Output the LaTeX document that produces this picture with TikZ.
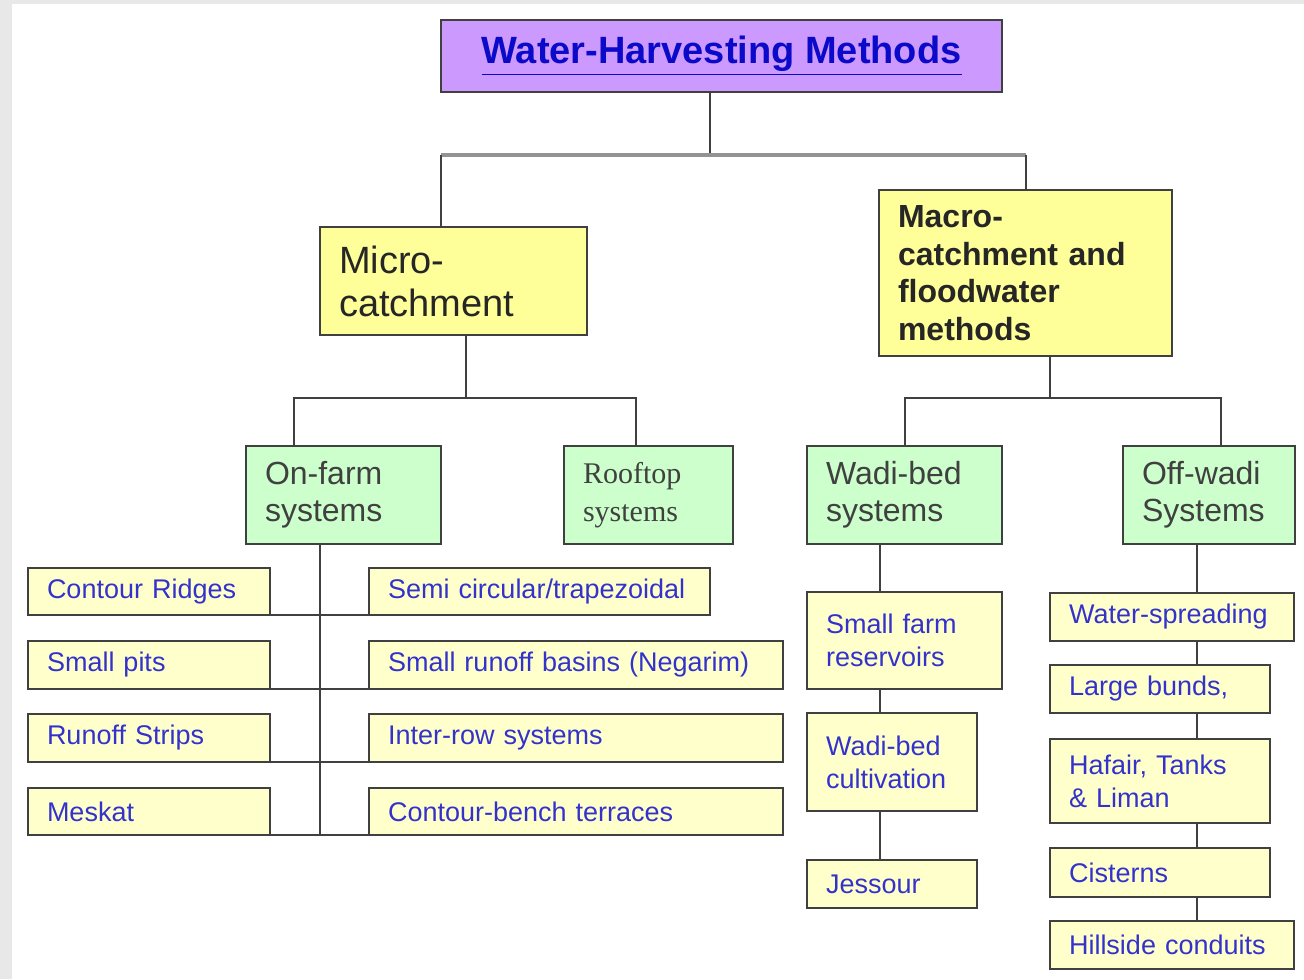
\documentclass[tikz,border=0pt]{standalone}
\usepackage{fontspec}
\setmainfont{Liberation Sans}
\newfontfamily\roofserif{Liberation Serif}
\usepackage{xcolor}
\usepackage{tikz}
\definecolor{bandgray}{RGB}{232,232,232}
\definecolor{boxline}{RGB}{64,64,64}
\definecolor{headpurple}{RGB}{204,153,255}
\definecolor{headblue}{RGB}{10,10,200}
\definecolor{catchyellow}{RGB}{255,255,153}
\definecolor{sysgreen}{RGB}{204,255,204}
\definecolor{methodyellow}{RGB}{255,255,204}
\definecolor{methodblue}{RGB}{51,51,204}
\tikzstyle{box} = [rectangle, draw=boxline, line width=1.2pt, outer sep=0pt, inner xsep=9.5pt, inner ysep=2pt, align=left, anchor=north west]
\tikzstyle{heading} = [box, fill=headpurple, text=headblue, minimum width=280.5pt, minimum height=36pt, align=center, font=\bfseries\fontsize{19}{22}\selectfont]
\tikzstyle{catch} = [box, fill=catchyellow, text=black!85, font=\fontsize{19}{21.5}\selectfont]
\tikzstyle{system} = [box, fill=sysgreen, text=black!75, minimum height=49pt, font=\fontsize{16}{18.5}\selectfont]
\tikzstyle{method} = [box, fill=methodyellow, text=methodblue, font=\fontsize{13.5}{16.5}\selectfont]
\tikzstyle{link} = [draw=boxline, line width=1pt]
\tikzstyle{bus} = [draw=gray!85, line width=2pt]

\begin{document}
\begin{tikzpicture}[x=0.5pt, y=-0.5pt]

		% Page and grey band
		\useasboundingbox (0,0) rectangle (1304,979);
		\fill [bandgray] (0,0) rectangle (1304,979);
		\fill [white] (12,4) rectangle (1304,979);

		% Top levels
		\node (title) [heading] at (441,20) {\underline{Water-Harvesting Methods}};
		\node (micro) [catch, text width=114.5pt, minimum height=54pt] at (320,227) {Micro-\\catchment};
		\node (macro) [catch, text width=127.5pt, minimum height=83pt, font=\bfseries\fontsize{16}{18.75}\selectfont] at (879,190) {Macro-\\catchment and\\floodwater\\methods};

		% Systems
		\node (onfarm) [system, text width=78.5pt] at (246,446) {On-farm\\systems};
		\node (rooftop) [system, text width=65.5pt, font=\roofserif\fontsize{15}{19}\selectfont] at (564,446) {Rooftop\\systems};
		\node (wadibed) [system, text width=78.5pt] at (807,446) {Wadi-bed\\systems};
		\node (offwadi) [system, text width=67pt] at (1123,446) {Off-wadi\\Systems};

		% On-farm methods
		\node (ridges) [method, text width=102pt, minimum height=23.5pt] at (28,568) {Contour Ridges};
		\node (pits) [method, text width=102pt, minimum height=24pt] at (28,641) {Small pits};
		\node (strips) [method, text width=102pt, minimum height=24pt] at (28,714) {Runoff Strips};
		\node (meskat) [method, text width=102pt, minimum height=23.5pt] at (28,788) {Meskat};
		\node (semi) [method, text width=151.5pt, minimum height=23.5pt] at (369,568) {Semi circular/trapezoidal};
		\node (negarim) [method, text width=188pt, minimum height=24pt] at (369,641) {Small runoff basins (Negarim)};
		\node (interrow) [method, text width=188pt, minimum height=24pt] at (369,714) {Inter-row systems};
		\node (bench) [method, text width=188pt, minimum height=23.5pt] at (369,788) {Contour-bench terraces};

		% Wadi-bed methods
		\node (smallfarm) [method, text width=78.5pt, minimum height=48.5pt] at (807,592) {Small farm\\reservoirs};
		\node (wadicult) [method, text width=66pt, minimum height=49pt] at (807,713) {Wadi-bed\\cultivation};
		\node (jessour) [method, text width=66pt, minimum height=24pt] at (807,860) {Jessour};

		% Off-wadi methods
		\node (spreading) [method, text width=103pt, minimum height=24pt] at (1050,593) {Water-spreading};
		\node (bunds) [method, text width=91pt, minimum height=24pt] at (1050,665) {Large bunds,};
		\node (hafair) [method, text width=91pt, minimum height=42pt] at (1050,739) {Hafair, Tanks\\\& Liman};
		\node (cisterns) [method, text width=91pt, minimum height=24.5pt] at (1050,848) {Cisterns};
		\node (hillside) [method, text width=103pt, minimum height=24pt] at (1050,921) {Hillside conduits};

		% Junctions
		\coordinate (tsplit) at (710,155);
		\coordinate (microin) at (441,227);
		\coordinate (msplit) at (466,398);
		\coordinate (macsplit) at (1050,398);
		\coordinate (onfarmin) at (294,446);
		\coordinate (rooftopin) at (636,446);
		\coordinate (offwadiin) at (1221,446);
		\coordinate (onfarmstem) at (320,0);
		\coordinate (wadistem) at (880,0);
		\coordinate (offwadistem) at (1197,0);

		% Top connectors
		\draw [link] (title.south -| tsplit) -- (tsplit);
		\draw [bus] (microin |- tsplit) -- (macro.north |- tsplit);
		\draw [link] (microin |- tsplit) -- (microin);
		\draw [link] (macro.north |- tsplit) -- (macro.north);

		% Second level connectors
		\draw [link] (micro.south -| msplit) -- (msplit);
		\draw [link] (onfarmin) |- (msplit) -| (rooftopin);
		\draw [link] (macro.south -| macsplit) -- (macsplit);
		\draw [link] (wadibed.north) |- (macsplit) -| (offwadiin);

		% On-farm connectors
		\draw [link] (onfarm.south -| onfarmstem) -- (meskat.south -| onfarmstem);
		\draw [link] (ridges.south east) -- (semi.south west);
		\draw [link] (pits.south east) -- (negarim.south west);
		\draw [link] (strips.south east) -- (interrow.south west);
		\draw [link] (meskat.south east) -- (bench.south west);

		% Wadi-bed connectors
		\draw [link] (wadibed.south -| wadistem) -- (smallfarm.north -| wadistem);
		\draw [link] (smallfarm.south -| wadistem) -- (wadicult.north -| wadistem);
		\draw [link] (wadicult.south -| wadistem) -- (jessour.north -| wadistem);

		% Off-wadi connectors
		\draw [link] (offwadi.south -| offwadistem) -- (spreading.north -| offwadistem);
		\draw [link] (spreading.south -| offwadistem) -- (bunds.north -| offwadistem);
		\draw [link] (bunds.south -| offwadistem) -- (hafair.north -| offwadistem);
		\draw [link] (hafair.south -| offwadistem) -- (cisterns.north -| offwadistem);
		\draw [link] (cisterns.south -| offwadistem) -- (hillside.north -| offwadistem);

	\end{tikzpicture}
\end{document}
